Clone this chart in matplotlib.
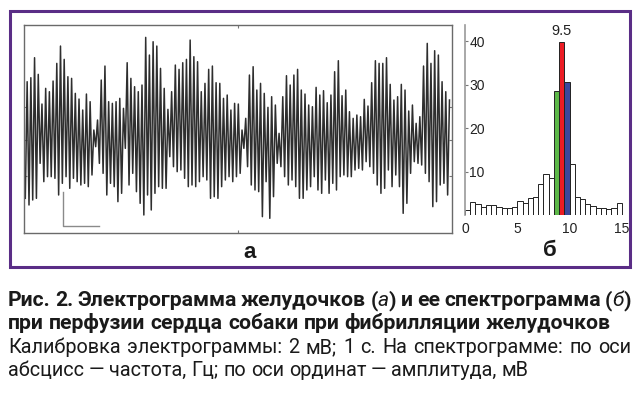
import matplotlib
matplotlib.use("Agg")
import matplotlib.pyplot as plt
import numpy as np
from matplotlib.patches import Rectangle

# ---------------- data ----------------
# Electrogram extremes (trough, peak alternating), amplitude in units of 1/51 mV
troughs_1 = [-205, -225, -210, -205, -100, -155, -140, -140, -145, -195, -160, -140, -175, -145, -155,
             -165, -160, -170, -135, -50, -100, -130, -195, -160, -170, -215, -190, -55, -165, -130,
             -185, -220, -255, -195, -240, -190, -170, -175, -175, -80, -110, -125, -120, -145, -170,
             -165, -170, -155, -140, -150, -205, -200, -205, -170, -150, -140, -155]
peaks_1 = [145, 157, 217, 167, 78, 125, 115, 147, 200, 252, 212, 160, 155, 110, 93, 60, 108, 85, 0, 30,
           150, 192, 85, 80, 85, 95, 65, 202, 155, 130, 115, 135, 278, 225, 265, 252, 185, 125, 62, 115,
           195, 182, 202, 212, 270, 220, 205, 115, 140, 182, 192, 142, 140, 95, 105, 60, 80]
troughs_2 = [-140, -130, -55, -110, -165, -180, -185, -260, -155, -265, -200, -100, -110, -140, -165,
             -150, -170, -205, -205, -180, -170, -140, -180, -190, -150, -190, -160, -180, -140, -135,
             -140, -140, -120, -115, -120, -95, -110, -130, -165, -190, -175, -120, -170, -135, -170,
             -250, -220, -130, -95, -100, -105, -130, -155, -230, -215, -165, -160, -195]
peaks_2 = [78, 0, 35, 165, 190, 120, 140, 110, 68, 100, 75, -10, 100, 163, 135, 165, 182, 120, 108, 75,
           70, 128, 105, 118, 82, 105, 175, 208, 103, 120, 55, 35, 45, 40, 92, 72, 142, 208, 200, 200,
           217, 137, 90, 100, 137, 120, 57, 75, 20, 40, 192, 260, 200, 238, 225, 145, 115, 90]
units_per_mv = 51
record_duration_s = 11.78
calib_mv = 2
calib_s = 1

# Spectrogram: frequency bins (Hz, left edges, 0.5 Hz wide) and amplitudes (mV)
freq_bins = [0.0, 0.5, 1.0, 1.5, 2.0, 2.5, 3.0, 3.5, 4.0, 4.5, 5.0, 5.5, 6.0, 6.5, 7.0,
             7.5, 8.0, 8.5, 9.0, 9.5, 10.0, 10.5, 11.0, 11.5, 12.0, 12.5, 13.0, 13.5, 14.0, 14.5]
amplitudes = [1.2, 2.9, 2.5, 1.9, 2.2, 2.2, 1.8, 1.7, 1.7, 1.8, 3.2, 2.7, 4.0, 4.2, 7.1,
              9.4, 8.5, 28.5, 39.8, 30.5, 11.8, 4.1, 3.7, 2.5, 2.1, 1.5, 1.7, 1.3, 1.5, 2.7]
highlight = {8.5: "#5cb848", 9.0: "#ec1c24", 9.5: "#3b479c"}
peak_label = "9.5"
xticks_hist = [0, 5, 10, 15]
yticks_hist = [10, 20, 30, 40]

caption_lines = [
    ("bold", True, [[("Рис.", "n")], [("2.", "n")], [("Электрограмма", "n")], [("желудочков", "n")],
                    [("(", "n"), ("а", "i"), (")", "n")], [("и", "n")], [("ее", "n")],
                    [("спектрограмма", "n")], [("(", "n"), ("б", "i"), (")", "n")]]),
    ("bold", False, [[(w, "n")] for w in "при перфузии сердца собаки при фибрилляции желудочков".split()]),
    ("normal", True, [[(w, "n")] for w in "Калибровка электрограммы: 2 мВ; 1 с. На спектрограмме: по оси".split()]),
    ("normal", False, [[(w, "n")] for w in "абсцисс — частота, Гц; по оси ординат — амплитуда, мВ".split()]),
]

# ---------------- figure ----------------
W, H = 639, 395
fig = plt.figure(figsize=(W / 100, H / 100), dpi=100)
FONT = "Liberation Sans"
CAP_FONT = "Roboto"
plt.rcParams["font.family"] = [FONT, "DejaVu Sans"]


def ax_rect(x0, y0, x1, y1):
    return [x0 / W, 1 - y1 / H, (x1 - x0) / W, (y1 - y0) / H]


# ---- panel a: electrogram
ax1 = fig.add_axes(ax_rect(24, 25, 452, 233))
seq = []
for t_, p_ in zip(troughs_1 + troughs_2, peaks_1 + peaks_2):
    seq += [t_, p_]
egm = np.array(seq, dtype=float) / units_per_mv
t = np.linspace(0, record_duration_s, len(egm))
ax1.plot(t, egm, color="#2e2e2e", lw=1.1)
cx, cy = 1.05, -5.65
ax1.plot([cx, cx, cx + calib_s], [cy + calib_mv, cy, cy], color="#8a8a8a", lw=1)
ax1.set_xlim(-0.036, 11.85)
ax1.set_ylim(-6.06, 6.18)
ax1.set_xticks([5.9])
ax1.set_yticks([1.35, -0.6, -2.7])
ax1.tick_params(direction="in", length=2, width=0.8, color="#777777",
                labelbottom=False, labelleft=False, top=True, right=True)
for s in ax1.spines.values():
    s.set_color("#6a6a6a")
    s.set_linewidth(1.0)
fig.text(250 / W, 1 - 253 / H, "а", ha="center", va="center", fontsize=16, fontweight="bold",
         color="#1a1a1a")

# ---- panel б: spectrogram
ax2 = fig.add_axes(ax_rect(465, 25, 625, 215))
colors = [highlight.get(f, "white") for f in freq_bins]
ax2.bar(freq_bins, amplitudes, width=0.5, align="edge", color=colors,
        edgecolor="#222222", linewidth=0.7)
ax2.set_xlim(0, 15.3)
ax2.set_ylim(0, 43.7)
for side in ("top", "right", "bottom"):
    ax2.spines[side].set_visible(False)
ax2.spines["left"].set_color("#9a9a9a")
ax2.spines["left"].set_linewidth(1.2)
ax2.set_xticks(xticks_hist)
ax2.set_yticks(yticks_hist)
ax2.tick_params(axis="x", length=0, pad=5, labelsize=10, labelcolor="#222222")
ax2.tick_params(axis="y", direction="in", length=2, width=0.8, color="#777777",
                pad=-3, labelsize=10, labelcolor="#222222")
for lab in ax2.get_yticklabels():
    lab.set_ha("left")
peak_i = amplitudes.index(max(amplitudes))
ax2.text(freq_bins[peak_i] + 0.25, max(amplitudes) + 1.0, peak_label, ha="center", va="bottom",
         fontsize=10.5, color="#222222")
fig.text(550 / W, 1 - 251 / H, "б", ha="center", va="center", fontsize=16, fontweight="bold",
         color="#1a1a1a")

# ---- purple frame
fig.patches.append(Rectangle((9.5 / W, 1 - 266.5 / H), 620 / W, 256 / H, transform=fig.transFigure,
                             fill=False, edgecolor="#5a2d86", linewidth=2.2, zorder=10))

# ---- caption (justified)
renderer = fig.canvas.get_renderer()


def piece_kw(weight, style):
    return dict(family=[CAP_FONT, "DejaVu Sans"],
                fontweight=("normal" if style == "i" else weight),
                fontstyle=("italic" if style == "i" else "normal"))


def width_of(s, size, **kw):
    tt = fig.text(0, 0, s, fontsize=size, **kw)
    w = tt.get_window_extent(renderer).width
    tt.remove()
    return w


def line_natural(words, weight, size):
    ws = [sum(width_of(p, size, **piece_kw(weight, st)) for p, st in word) for word in words]
    sp = (width_of("н н", size, **piece_kw(weight, "n")) - width_of("нн", size, **piece_kw(weight, "n")))
    return ws, sp


# fit sizes: bold line 2 natural width ~605 px, regular line 4 ~ 522 px
ws, sp = line_natural(caption_lines[1][2], "bold", 10)
size_b = 10 * 605 / (sum(ws) + sp * (len(ws) - 1))
ws, sp = line_natural(caption_lines[3][2], "normal", 10)
size_n = 10 * 522 / (sum(ws) + sp * (len(ws) - 1))

x_left, x_right = 8, 631
baselines = [306, 329, 353, 376]
for (weight, justify, words), base in zip(caption_lines, baselines):
    size = size_b if weight == "bold" else size_n
    ws, sp = line_natural(words, weight, size)
    gap = (x_right - x_left - sum(ws)) / (len(ws) - 1) if justify else sp
    x = x_left
    for word, wpx in zip(words, ws):
        xx = x
        for p, st in word:
            fig.text(xx / W, 1 - base / H, p, fontsize=size, va="baseline", ha="left",
                     color="#1a1a1a", **piece_kw(weight, st))
            xx += width_of(p, size, **piece_kw(weight, st))
        x += wpx + gap

fig.savefig("out.png", dpi=100)
